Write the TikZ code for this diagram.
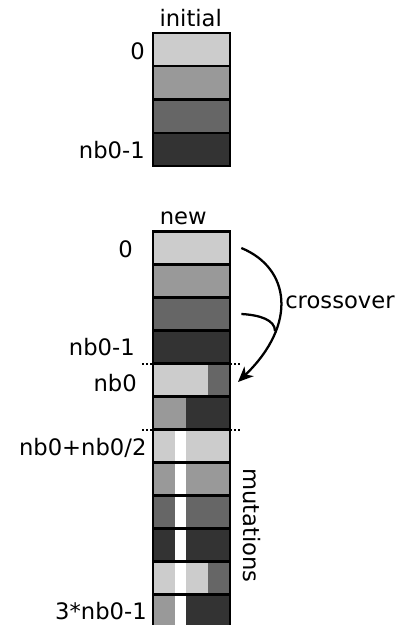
\documentclass[tikz,border=0pt]{standalone}
\usepackage{fontspec}
\setmainfont{DejaVu Sans}
\usetikzlibrary{arrows.meta}
\definecolor{g8}{HTML}{CCCCCC}
\definecolor{g6}{HTML}{999999}
\definecolor{g4}{HTML}{666666}
\definecolor{g2}{HTML}{333333}
\begin{document}
\begin{tikzpicture}[x=0.75pt,y=-0.75pt,
  cell/.style={draw, line width=1.6pt, minimum width=57.75pt, minimum height=24.75pt,
    inner sep=0pt, outer sep=0pt, anchor=north west},
  lbl/.style={font=\fontsize{17}{20}\selectfont, inner sep=0pt},
  sep/.style={line width=1.5pt, dash pattern=on 1.5pt off 1.5pt},
  xarrow/.style={line width=1.7pt, -{Stealth[length=11.5pt,width=10pt,inset=3.5pt]}}]
\clip (0,0) rectangle (409,625);

% initial population
\foreach \c [count=\i from 0] in {g8,g6,g4,g2}
  \node[cell, minimum height=24.83pt, fill=\c] (ini\i) at (153,33.3+33.1*\i) {};

% new population: base colours
\foreach \c [count=\i from 0] in {g8,g6,g4,g2,g8,g2,g8,g6,g4,g2,g8,g6}
  \fill[\c] (153,231.5+33*\i) rectangle (230,264.5+33*\i);
% crossover children and mutated genes
\fill[g4] (208,363.5) rectangle (230,396.5);
\fill[g6] (153,396.5) rectangle (186,429.5);
\fill[white] (175,429.5) rectangle (186,627.5);
\fill[g4] (208,561.5) rectangle (230,594.5);
\fill[g2] (186,594.5) rectangle (230,627.5);
% cell borders
\foreach \i in {0,...,11}
  \node[cell] (new\i) at (153,231.5+33*\i) {};

% section separators
\draw[sep] ([xshift=-8.25pt]new4.north west) -- ([xshift=8.25pt]new4.north east);
\draw[sep] ([xshift=-8.25pt]new6.north west) -- ([xshift=8.25pt]new6.north east);

% labels
\node[lbl, anchor=base] (tini) at (190.7,26.7) {initial};
\node[lbl, anchor=base east] (li0) at (145,59.3) {0};
\node[lbl, anchor=base east] (li3) at (145,158.3) {nb0-1};
\node[lbl, anchor=base] (tnew) at (183.3,224) {new};
\node[lbl, anchor=base east] (ln0) at (133,257.3) {0};
\node[lbl, anchor=base east] (ln3) at (135,355.3) {nb0-1};
\node[lbl, anchor=base east] (ln4) at (137,391) {nb0};
\node[lbl, anchor=base east] (ln6) at (146.7,455.3) {nb0+nb0/2};
\node[lbl, anchor=base east] (ln11) at (147,619) {3*nb0-1};
\node[lbl, anchor=base west] (tcross) at (285,308.3) {crossover};
\node[lbl, anchor=base, rotate=-90] (tmut) at (243.5,525.5) {mutations};

% crossover arrows
\coordinate (pa) at ([xshift=8.5pt]new0.east);
\coordinate (pb) at ([xshift=8.5pt]new2.east);
\coordinate (child) at ([xshift=6pt,yshift=-1.5pt]new4.east);
\coordinate (join) at (275,331);
\draw[xarrow] (pa) .. controls (290,268) and (298,324) .. (child);
\draw[line width=1.7pt] (pb) .. controls (260,315) and (275,320) .. (join);
\end{tikzpicture}
\end{document}
